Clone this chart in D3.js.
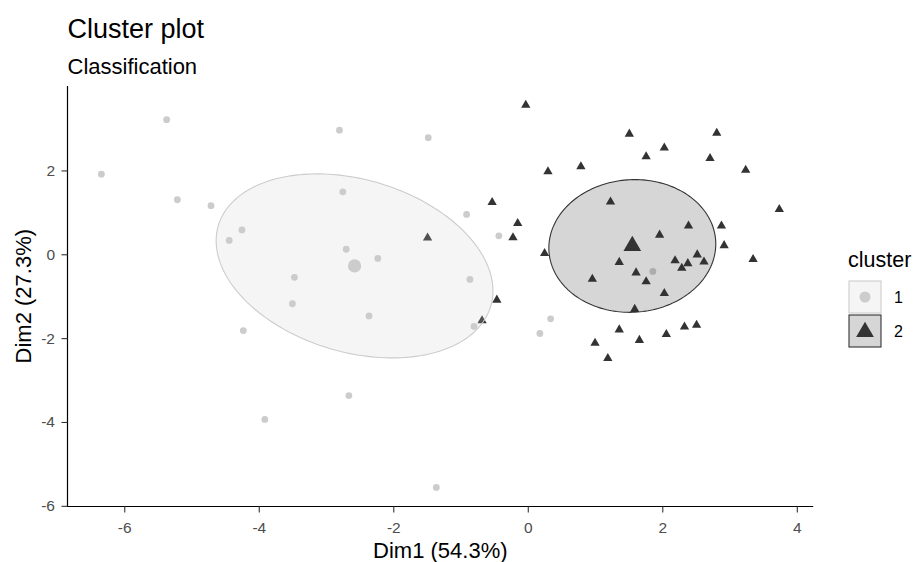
<!DOCTYPE html>
<html><head><meta charset="utf-8">
<script src="https://cdn.jsdelivr.net/npm/d3@7"></script>
<style>body{margin:0;background:#fff} text{font-family:"Liberation Sans",Arial,sans-serif}</style>
</head><body><svg id="chart" width="916" height="562"></svg>
<script>
// ---- data ----
const clusterLabels = ["1", "2"];
const cluster1X = [-6.34,-5.37,-5.21,-4.71,-4.25,-4.44,-3.47,-3.50,-4.23,-3.91,-2.66,-2.36,-1.36,-0.86,-0.80,-2.80,-1.48,-2.75,-0.91,-0.43,-2.70,-2.23,0.34,0.18,1.86];
const cluster1Y = [1.91,3.21,1.30,1.16,0.58,0.33,-0.55,-1.18,-1.82,-3.94,-3.37,-1.47,-5.56,-0.60,-1.72,2.96,2.78,1.49,0.95,0.44,0.12,-0.10,-1.54,-1.89,-0.41];
const cluster2X = [-0.03,1.51,2.81,2.03,1.76,2.71,0.79,0.30,3.24,-0.53,1.23,3.74,-0.15,2.39,2.88,-0.22,1.96,2.92,0.25,2.52,1.36,2.19,2.62,2.38,2.29,1.61,3.35,0.96,1.76,2.03,1.59,-0.46,-0.68,1.36,1.00,1.66,2.06,2.33,2.51,1.19,-1.49];
const cluster2Y = [3.56,2.87,2.89,2.54,2.33,2.29,2.09,1.97,2.01,1.24,1.25,1.07,0.74,0.68,0.68,0.40,0.46,0.21,0.02,-0.01,-0.19,-0.15,-0.18,-0.22,-0.33,-0.44,-0.12,-0.59,-0.65,-0.93,-1.31,-1.09,-1.58,-1.80,-2.12,-2.05,-1.91,-1.73,-1.69,-2.48,0.39];
// ellipse semi-axis vectors (data units) per cluster
const ellipseAxisA = [[2.058, -0.597], [1.241, 0.048]];
const ellipseAxisB = [[0, 2.112], [0, 1.582]];
const xTicks = [-6, -4, -2, 0, 2, 4];
const yTicks = [-6, -4, -2, 0, 2];
const titleText = "Cluster plot";
const subtitleText = "Classification";
const xTitle = "Dim1 (54.3%)";
const yTitle = "Dim2 (27.3%)";
const legendTitle = "cluster";

// ---- styles ----
const pointColors = ["#CCCCCC", "#333333"];
const panel = {left: 67.5, right: 813.2, top: 85.9, bottom: 506.5};

const svg = d3.select("#chart");
const clusters = [
  {x: cluster1X, y: cluster1Y},
  {x: cluster2X, y: cluster2Y}
];
const allX = cluster1X.concat(cluster2X), allY = cluster1Y.concat(cluster2Y);
const xr = d3.extent(allX), yr = d3.extent(allY);
const xe = (xr[1]-xr[0])*0.05, ye = (yr[1]-yr[0])*0.05;
const x = d3.scaleLinear().domain([xr[0]-xe, xr[1]+xe]).range([panel.left, panel.right]);
const y = d3.scaleLinear().domain([yr[0]-ye, yr[1]+ye]).range([panel.bottom, panel.top]);

const smallTri = d3.symbol().type(d3.symbolTriangle).size(37.5);
const bigTri = d3.symbol().type(d3.symbolTriangle).size(136);

// points
clusters.forEach((c, i) => {
  const pts = c.x.map((v, j) => [v, c.y[j]]);
  const g = svg.append("g");
  if (i === 0) {
    g.selectAll("circle").data(pts).join("circle")
      .attr("cx", d => x(d[0])).attr("cy", d => y(d[1])).attr("r", 3.4)
      .attr("fill", pointColors[i]);
  } else {
    g.selectAll("path").data(pts).join("path")
      .attr("d", smallTri)
      .attr("transform", d => `translate(${x(d[0])},${y(d[1])})`)
      .attr("fill", pointColors[i]);
  }
});

// ellipses
clusters.forEach((c, i) => {
  const cx = d3.mean(c.x), cy = d3.mean(c.y);
  const A = ellipseAxisA[i], B = ellipseAxisB[i];
  const ts = d3.range(0, 200).map(k => k / 200 * 2 * Math.PI);
  const pts = ts.map(t => [cx + A[0]*Math.cos(t) + B[0]*Math.sin(t), cy + A[1]*Math.cos(t) + B[1]*Math.sin(t)]);
  svg.append("path")
    .attr("d", d3.line().x(d => x(d[0])).y(d => y(d[1])).curve(d3.curveLinearClosed)(pts))
    .attr("fill", pointColors[i]).attr("fill-opacity", 0.2)
    .attr("stroke", pointColors[i]).attr("stroke-width", 1.1);
});

// centroids
clusters.forEach((c, i) => {
  const cx = x(d3.mean(c.x)), cy = y(d3.mean(c.y));
  if (i === 0) {
    svg.append("circle").attr("cx", cx).attr("cy", cy).attr("r", 6.6).attr("fill", pointColors[i]);
  } else {
    svg.append("path").attr("d", bigTri).attr("transform", `translate(${cx},${cy})`).attr("fill", pointColors[i]);
  }
});

// axes
const fmt = d => String(d);
const xAxis = svg.append("g").attr("transform", `translate(0,${panel.bottom})`)
  .call(d3.axisBottom(x).tickValues(xTicks).tickFormat(fmt).tickSize(6).tickSizeOuter(0).tickPadding(9));
const yAxis = svg.append("g").attr("transform", `translate(${panel.left},0)`)
  .call(d3.axisLeft(y).tickValues(yTicks).tickFormat(fmt).tickSize(6).tickSizeOuter(0).tickPadding(6.5));
[xAxis, yAxis].forEach(a => {
  a.select(".domain").attr("stroke", "#000").attr("stroke-width", 1.2);
  a.selectAll(".tick line").attr("stroke", "#333").attr("stroke-width", 1.1);
  a.selectAll(".tick text").attr("fill", "#4D4D4D").style("font-size", "15.5px")
    .style("font-family", "'Liberation Sans', Arial, sans-serif");
});
// extend the axis lines so they meet at the corner
xAxis.select(".domain").attr("d", `M${panel.left - 0.6},0H${panel.right}`);
yAxis.select(".domain").attr("d", `M0,${panel.bottom + 0.6}V${panel.top}`);

// titles
svg.append("text").attr("x", panel.left).attr("y", 38).attr("font-size", 27).attr("fill", "#000").text(titleText);
svg.append("text").attr("x", panel.left).attr("y", 74).attr("font-size", 22).attr("fill", "#000").text(subtitleText);
svg.append("text").attr("x", (panel.left + panel.right) / 2).attr("y", 558).attr("text-anchor", "middle")
  .attr("font-size", 22).attr("fill", "#000").text(xTitle);
svg.append("text").attr("transform", `translate(31,${(panel.top + panel.bottom) / 2}) rotate(-90)`)
  .attr("text-anchor", "middle").attr("font-size", 22).attr("fill", "#000").text(yTitle);

// legend
const lg = svg.append("g").attr("transform", "translate(848,0)");
lg.append("text").attr("x", 0).attr("y", 266.5).attr("font-size", 21.5).attr("fill", "#000").text(legendTitle);
clusterLabels.forEach((lab, i) => {
  const top = 281 + i * 34;
  lg.append("rect").attr("x", 1).attr("y", top).attr("width", 32).attr("height", 32)
    .attr("fill", pointColors[i]).attr("fill-opacity", 0.2)
    .attr("stroke", pointColors[i]).attr("stroke-width", 1.1);
  if (i === 0) {
    lg.append("circle").attr("cx", 17).attr("cy", top + 16).attr("r", 5.5).attr("fill", pointColors[i]);
  } else {
    lg.append("path").attr("d", bigTri).attr("transform", `translate(17,${top + 17})`).attr("fill", pointColors[i]);
  }
  lg.append("text").attr("x", 46).attr("y", top + 16).attr("dy", "0.36em").attr("font-size", 16).attr("fill", "#000").text(lab);
});
</script></body></html>
